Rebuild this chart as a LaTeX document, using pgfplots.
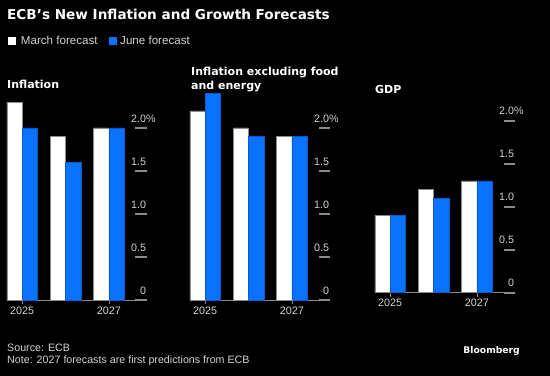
\documentclass[border=0pt]{standalone}
\usepackage{fontspec}
\usepackage{pgfplots}
\pgfplotsset{compat=1.18}
\setmainfont{Liberation Sans}
\newfontfamily\titlefont{DejaVu Sans Bold}
\definecolor{bblue}{HTML}{0A72FF}
\definecolor{txtgray}{HTML}{D2D2D2}
\definecolor{axgray}{HTML}{8A8A8A}

\pgfplotstableread{
x march june
0 2.3 2.0
1 1.9 1.6
2 2.0 2.0
}\inflation
\pgfplotstableread{
x march june
0 2.2 2.4
1 2.0 1.9
2 1.9 1.9
}\core
\pgfplotstableread{
x march june
0 0.9 0.9
1 1.2 1.1
2 1.3 1.3
}\gdp

\pgfplotsset{panel/.style={
  scale only axis, width=139.3bp, height=215bp,
  xmin=-0.35, xmax=2.86, ymin=0, ymax=2.5,
  clip=false,
  anchor=south west,
  axis x line*=bottom, axis y line*=right,
  y axis line style={draw=black},
  x axis line style={draw=axgray, line width=0.8pt},
  xtick={0,2}, xticklabels={2025,2027},
  xtick style={draw=black},
  ytick={0,0.5,1,1.5,2}, yticklabels={0,0.5,1.0,1.5,2.0\rlap{\%}},
  ytick style={draw=black},
  tick align=inside, major tick length=10.7bp,
  yticklabel style={anchor=south east, inner sep=0pt, yshift=5.5bp, font=\fontsize{10.7bp}{12bp}\selectfont, text=txtgray},
  xticklabel style={anchor=north, inner sep=0pt, yshift=-6.5bp, font=\fontsize{10.8bp}{12bp}\selectfont, text=txtgray},
}}
\newcommand\dashes{%
\addplot[fill=axgray, draw=axgray, line width=0.2pt, forget plot] coordinates {(2.6134,-0.006)(2.86,-0.006)(2.86,0.006)(2.6134,0.006)} -- cycle;
\addplot[fill=axgray, draw=axgray, line width=0.2pt, forget plot] coordinates {(2.6134,0.494)(2.86,0.494)(2.86,0.506)(2.6134,0.506)} -- cycle;
\addplot[fill=axgray, draw=axgray, line width=0.2pt, forget plot] coordinates {(2.6134,0.994)(2.86,0.994)(2.86,1.006)(2.6134,1.006)} -- cycle;
\addplot[fill=axgray, draw=axgray, line width=0.2pt, forget plot] coordinates {(2.6134,1.494)(2.86,1.494)(2.86,1.506)(2.6134,1.506)} -- cycle;
\addplot[fill=axgray, draw=axgray, line width=0.2pt, forget plot] coordinates {(2.6134,1.994)(2.86,1.994)(2.86,2.006)(2.6134,2.006)} -- cycle;
\addplot[fill=axgray, draw=axgray, line width=0.2pt, forget plot] coordinates {(-0.008,0)(0.008,0)(0.008,-0.04)(-0.008,-0.04)} -- cycle;
\addplot[fill=axgray, draw=axgray, line width=0.2pt, forget plot] coordinates {(1.992,0)(2.008,0)(2.008,-0.04)(1.992,-0.04)} -- cycle;
}

\begin{document}
\begin{tikzpicture}
\fill[black] (0,0) rectangle (550bp,376bp);
\useasboundingbox (0,0) rectangle (550bp,376bp);

% title and legend
\node[anchor=base west, inner sep=0pt, text=white] at (7bp,356bp) {\titlefont\fontsize{13.6bp}{15bp}\selectfont ECB’s New Inflation and Growth Forecasts};
\fill[white] (8.3bp,331bp) rectangle (16bp,338.7bp);
\node[anchor=base west, inner sep=0pt, text=txtgray] at (20.7bp,331bp) {\fontsize{11.6bp}{13bp}\selectfont March forecast};
\fill[bblue] (109bp,331bp) rectangle (116.7bp,338.7bp);
\node[anchor=base west, inner sep=0pt, text=txtgray] at (120bp,331bp) {\fontsize{11.6bp}{13bp}\selectfont June forecast};

% panel titles
\node[anchor=base west, inner sep=0pt, text=white] at (7bp,287.7bp) {\titlefont\fontsize{11bp}{13bp}\selectfont Inflation};
\node[anchor=base west, inner sep=0pt, text=white] at (191bp,300bp) {\titlefont\fontsize{11bp}{13bp}\selectfont Inflation excluding food};
\node[anchor=base west, inner sep=0pt, text=white] at (191bp,286.7bp) {\titlefont\fontsize{11bp}{13bp}\selectfont and energy};
\node[anchor=base west, inner sep=0pt, text=white] at (375bp,282.7bp) {\titlefont\fontsize{11bp}{13bp}\selectfont GDP};

% footer
\node[anchor=base west, inner sep=0pt, text=txtgray] at (7bp,25bp) {\fontsize{10.7bp}{12bp}\selectfont Source: ECB};
\node[anchor=base west, inner sep=0pt, text=txtgray] at (7bp,13bp) {\fontsize{10.7bp}{12bp}\selectfont Note: 2027 forecasts are first predictions from ECB};
\node[anchor=base east, inner sep=0pt, text=white] at (520bp,22.7bp) {\titlefont\fontsize{9.2bp}{11bp}\selectfont Bloomberg};

% panel 1
\begin{axis}[panel, at={(7bp,76bp)}]
\addplot[ybar, bar width=15.3bp, bar shift=-7.65bp, fill=white, draw=axgray, line width=0.5pt] table[x=x,y=march]{\inflation};
\addplot[ybar, bar width=15.3bp, bar shift=7.65bp, fill=bblue, draw=bblue!80!black, line width=0.5pt] table[x=x,y=june]{\inflation};
\dashes
\end{axis}

% panel 2
\begin{axis}[panel, at={(190bp,76bp)}]
\addplot[ybar, bar width=15.3bp, bar shift=-7.65bp, fill=white, draw=axgray, line width=0.5pt] table[x=x,y=march]{\core};
\addplot[ybar, bar width=15.3bp, bar shift=7.65bp, fill=bblue, draw=bblue!80!black, line width=0.5pt] table[x=x,y=june]{\core};
\dashes
\end{axis}

% panel 3
\begin{axis}[panel, at={(375bp,83.3bp)}]
\addplot[ybar, bar width=15.3bp, bar shift=-7.65bp, fill=white, draw=axgray, line width=0.5pt] table[x=x,y=march]{\gdp};
\addplot[ybar, bar width=15.3bp, bar shift=7.65bp, fill=bblue, draw=bblue!80!black, line width=0.5pt] table[x=x,y=june]{\gdp};
\dashes
\end{axis}
\end{tikzpicture}
\end{document}
